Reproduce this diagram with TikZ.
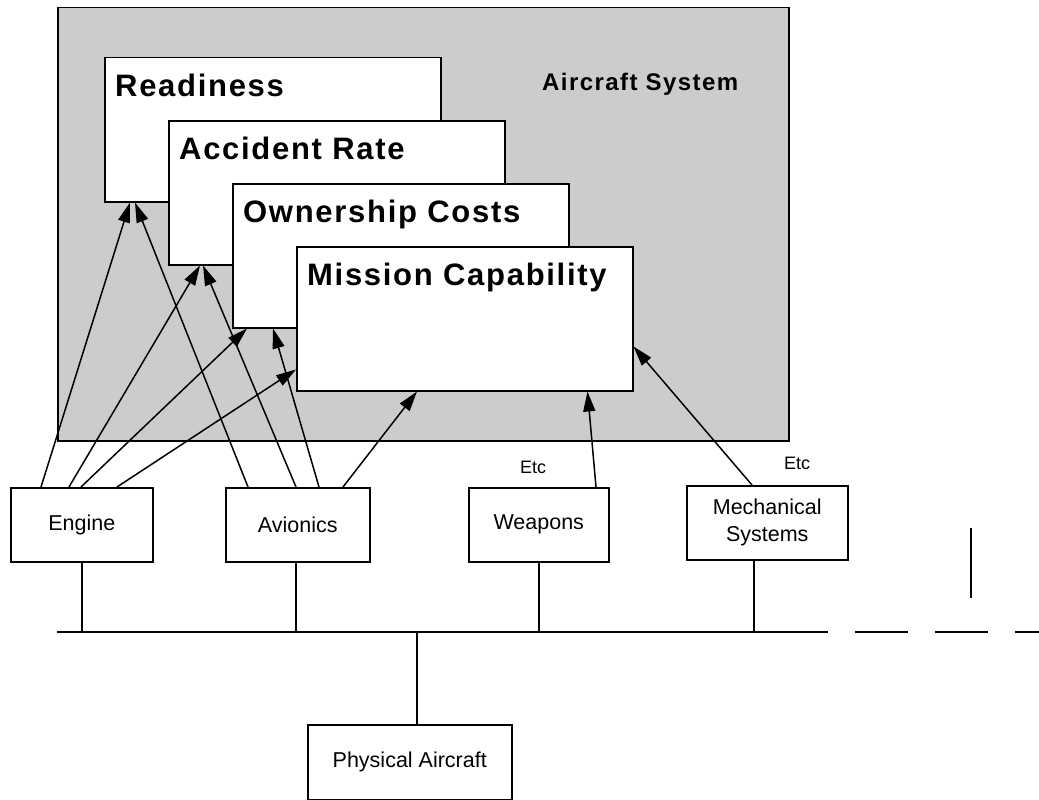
\documentclass[tikz,border=0pt]{standalone}
\usepackage{fontspec}
\setmainfont{Liberation Sans}
\usetikzlibrary{arrows.meta}
\definecolor{sysgray}{HTML}{CCCCCC}
\tikzset{
  sysbox/.style={draw, fill=sysgray, line width=1.5pt, anchor=north west, inner sep=0pt},
  goalbox/.style={draw, fill=white, line width=1.5pt, anchor=north west, inner sep=0pt,
    minimum width=336pt, minimum height=144pt},
  goaltxt/.style={anchor=base west, inner sep=0pt,
    font=\fontsize{31}{36}\selectfont\bfseries\addfontfeature{LetterSpace=5.5}},
  unit/.style={draw, fill=white, line width=1.5pt, anchor=north west, inner sep=0pt,
    minimum height=74pt, align=center, font=\fontsize{21.5}{27}\selectfont},
  feed/.style={line width=1.5pt, -{Triangle[length=20pt,width=12pt]}},
  wire/.style={line width=1.5pt},
  etc/.style={anchor=base, inner sep=0pt, font=\fontsize{18}{20}\selectfont}
}
\begin{document}
\begin{tikzpicture}[x=1pt, y=-1pt]
	\useasboundingbox (0,0) rectangle (1039,800);
	\node[sysbox, minimum width=731pt, minimum height=433pt] (sys) at (57,7) {};
	\node[anchor=base west, inner sep=0pt,
	  font=\fontsize{24}{28}\selectfont\bfseries\addfontfeature{LetterSpace=6}] (syslbl) at (542,90) {Aircraft System};
      \foreach \n/\lbl [count=\i from 0] in {rd/Readiness, ar/Accident Rate, oc/Ownership Costs, mc/Mission Capability}
	  {
	      \node[goalbox] (\n) at (104+64*\i, 57+63*\i) {};
	      \node[goaltxt] (\n-t) at ([shift={(11,39)}]\n.north west) {\lbl};
	  }
	\node[unit, minimum width=142pt] (en) at (10,487) {Engine};
	\node[unit, minimum width=144pt] (av) at (225,487) {Avionics};
	\node[unit, minimum width=140pt] (wp) at (468,487) {Weapons};
	\node[unit, minimum width=161pt] (ms) at (686,485) {Mechanical\\Systems};
	\node[unit, minimum width=204pt, minimum height=75pt] (pa) at (307,724) {Physical Aircraft};
	\node[etc] (etc1) at (533,473) {Etc};
	\node[etc] (etc2) at (797,469) {Etc};

	  \draw [feed] ([xshift=31pt]en.north west) -- ([xshift=26pt]rd.south west);
	  \draw [feed] ([xshift=59pt]en.north west) -- ([xshift=32pt]ar.south west);
	  \draw [feed] ([xshift=71pt]en.north west) -- ([xshift=15pt]oc.south west);
	  \draw [feed] ([xshift=107pt]en.north west) -- ([yshift=22pt]mc.south west);

	  \draw [feed] ([xshift=23pt]av.north west) -- ([xshift=31pt]rd.south west);
	  \draw [feed] ([xshift=71pt]av.north west) -- ([xshift=35pt]ar.south west);
	  \draw [feed] ([xshift=94pt]av.north west) -- ([xshift=41pt]oc.south west);
	  \draw [feed] ([xshift=118pt]av.north west) -- ([xshift=121pt]mc.south west);

	  \draw [feed] ([xshift=128pt]wp.north west) -- ([xshift=-46pt]mc.south east);
	  \draw [feed] ([xshift=66pt]ms.north west) -- ([yshift=45pt]mc.south east);

	% bus
	\coordinate (busL) at (57,632);
	\coordinate (busR) at (828,632);
	\coordinate (dashL) at (855,632);
	\coordinate (dashR) at (1039,632);
	\draw [wire] (busL) -- (busR);
	\draw [wire, dash pattern=on 53pt off 27pt] (dashL) -- (dashR);
	\draw [wire] (en.south) -- (en.south |- busL);
	\draw [wire] ([xshift=-2pt]av.south) -- ([xshift=-2pt]av.south |- busL);
	\draw [wire] (wp.south) -- (wp.south |- busL);
	\draw [wire] ([xshift=-13.5pt]ms.south) -- ([xshift=-13.5pt]ms.south |- busL);
	\draw [wire] ([xshift=7pt]pa.north) -- ([xshift=7pt]pa.north |- busL);
	\coordinate (tickT) at (971,528);
	\coordinate (tickB) at (971,598);
	\draw [wire] (tickT) -- (tickB);
\end{tikzpicture}
\end{document}
